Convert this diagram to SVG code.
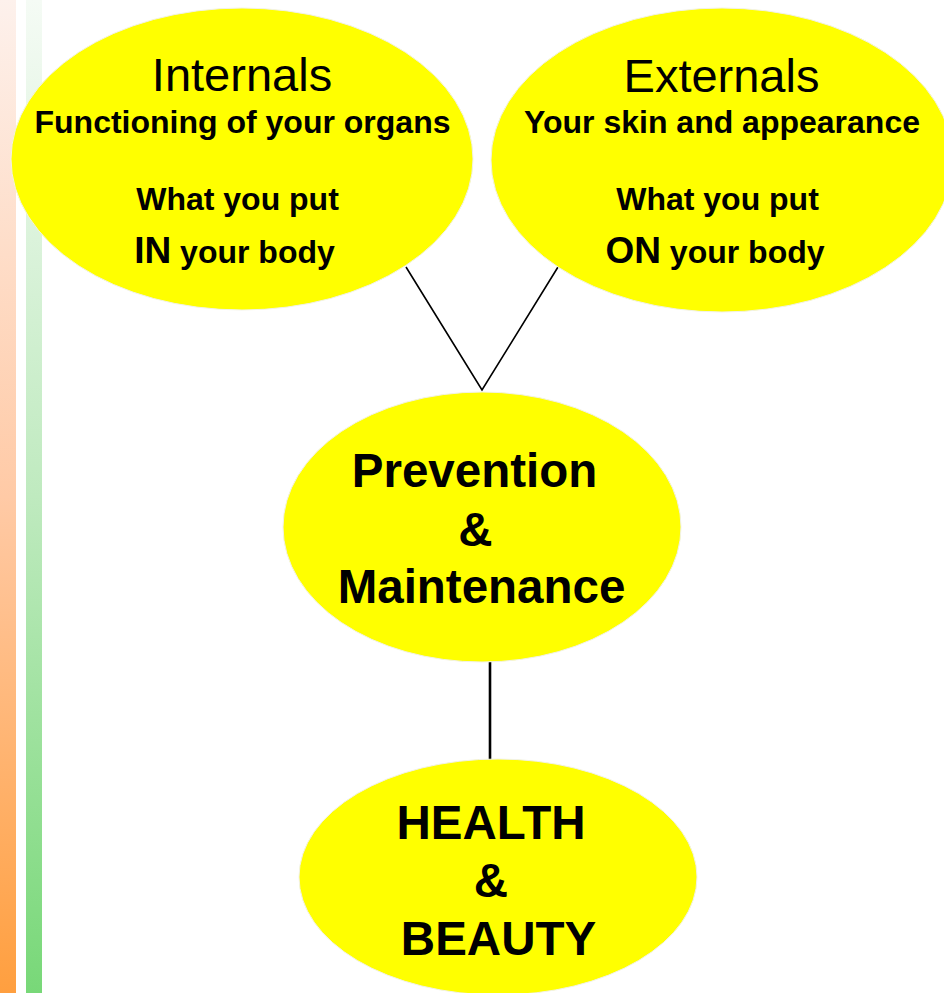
<svg xmlns="http://www.w3.org/2000/svg" width="944" height="993" viewBox="0 0 944 993">
  <style>
    .node { fill: #ffff00; stroke: #f2f2e6; stroke-width: 1; }
    .t { font-family: "Liberation Sans", Arial, sans-serif; fill: #000; text-anchor: middle; }
    .head { font-size: 47px; }
    .sub { font-size: 32px; font-weight: bold; }
    .big { font-size: 37px; font-weight: bold; }
    .main { font-size: 47.5px; font-weight: bold; }
    .link { stroke: #000; fill: none; }
  </style>
  <defs>
    <linearGradient id="barOrange" x1="0" y1="0" x2="0" y2="1">
      <stop offset="0" stop-color="#fdf1ec"/>
      <stop offset="0.5" stop-color="#ffcaa6"/>
      <stop offset="1" stop-color="#ff9f3f"/>
    </linearGradient>
    <linearGradient id="barGreen" x1="0" y1="0" x2="0" y2="1">
      <stop offset="0" stop-color="#f5fbf5"/>
      <stop offset="0.5" stop-color="#bfeabf"/>
      <stop offset="1" stop-color="#78d878"/>
    </linearGradient>
  </defs>

  <rect width="944" height="993" fill="#ffffff"/>

  <!-- side bars -->
  <rect x="0" y="0" width="16" height="993" fill="url(#barOrange)"/>
  <rect x="26" y="0" width="16" height="993" fill="url(#barGreen)"/>

  <!-- connectors -->
  <g id="connectors">
    <polyline class="link" stroke-width="1.6" points="406,267 482,390 558,267"/>
    <line class="link" stroke-width="2.6" x1="490" y1="662" x2="490" y2="760"/>
  </g>

  <g id="internals">
    <ellipse class="node" cx="242" cy="159" rx="231" ry="151"/>
    <text class="t head" x="242" y="91">Internals</text>
    <text class="t sub" x="242.5" y="133">Functioning of your organs</text>
    <text class="t sub" x="237.5" y="210">What you put</text>
    <text class="t sub" x="234.5" y="263"><tspan class="big">IN</tspan> your body</text>
  </g>

  <g id="externals">
    <ellipse class="node" cx="722" cy="160" rx="231" ry="152"/>
    <text class="t head" x="721.5" y="92">Externals</text>
    <text class="t sub" x="722" y="133">Your skin and appearance</text>
    <text class="t sub" x="717.5" y="210">What you put</text>
    <text class="t sub" x="715" y="263"><tspan class="big">ON</tspan> your body</text>
  </g>

  <g id="prevention">
    <ellipse class="node" cx="482" cy="527" rx="199" ry="135"/>
    <text class="t main" x="474.5" y="487">Prevention</text>
    <text class="t main" x="475.5" y="546">&amp;</text>
    <text class="t main" x="481.5" y="603">Maintenance</text>
  </g>

  <g id="health">
    <ellipse class="node" cx="498" cy="877" rx="199" ry="118"/>
    <text class="t main" x="491" y="839">HEALTH</text>
    <text class="t main" x="491" y="897">&amp;</text>
    <text class="t main" x="498.5" y="955">BEAUTY</text>
  </g>
</svg>
